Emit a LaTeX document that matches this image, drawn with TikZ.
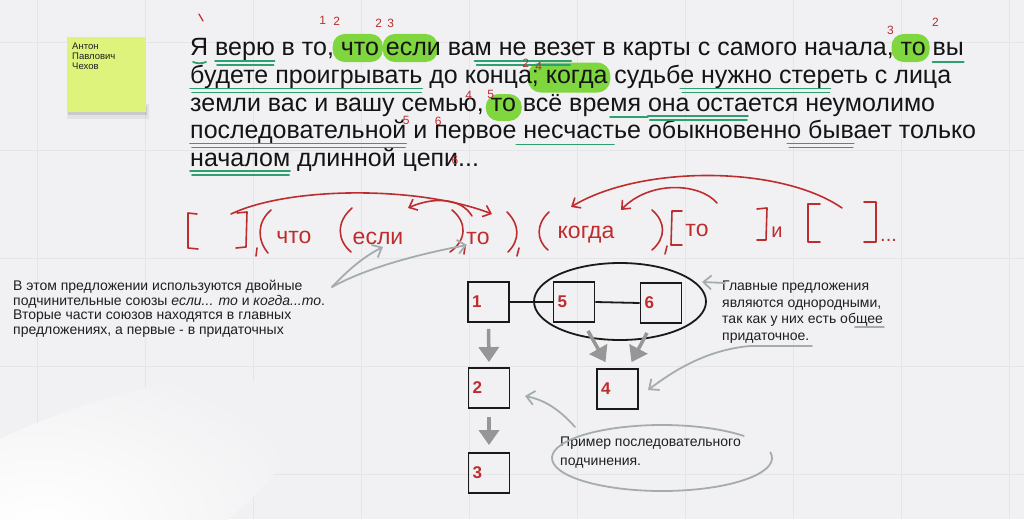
\documentclass[tikz,border=0pt]{standalone}
\usepackage{fontspec}
\setmainfont{Liberation Sans}
\usetikzlibrary{calc,arrows.meta,shapes.geometric}
\definecolor{bgc}{RGB}{241,241,243}
\definecolor{gridc}{RGB}{229,229,232}
\definecolor{notec}{RGB}{222,243,124}
\definecolor{hlg}{RGB}{128,214,62}
\definecolor{ulg}{RGB}{46,160,112}
\definecolor{rd}{RGB}{190,45,45}
\definecolor{gr}{RGB}{165,172,176}
\definecolor{garrc}{RGB}{150,150,150}
\newcommand\mf{\fontsize{25}{27.5}\selectfont}
\newlength\wtmp
\makeatletter
\newcommand\defw[3]{%
  \settowidth\wtmp{\mf #2}\advance\wtmp by 190pt
  \expandafter\xdef\csname W#1l\endcsname{\strip@pt\wtmp}%
  \settowidth\wtmp{\mf #2#3}\advance\wtmp by 190pt
  \expandafter\xdef\csname W#1r\endcsname{\strip@pt\wtmp}}
\makeatother
\newcommand\mkw[2]{\coordinate (#1l) at (\csname W#1l\endcsname,#2);\coordinate (#1r) at (\csname W#1r\endcsname,#2);}
\newcommand\hlblob[4]{\fill[hlg,rounded corners=12pt] ($(#1)+(#3,6)$) rectangle ($(#2)+(#4,-22)$);}
\newcommand\ulone[2]{\draw[ul] ($(#1)+(0,6)$) -- ($(#2)+(0,6)$);}
\newcommand\ultwo[2]{\draw[ul] ($(#1)+(0,5)$) -- ($(#2)+(0,5)$);\draw[ul] ($(#1)+(2,9)$) -- ($(#2)+(-1,9)$);}
\tikzset{
  txt/.style={anchor=base west,inner sep=0pt,font=\mf,text=black!92},
  ul/.style={draw=ulg,line width=1.8pt,line cap=round},
  rnum/.style={text=rd,inner sep=0pt,font=\fontsize{12}{12}\selectfont},
  rl/.style={draw=rd,line width=1.6pt,line cap=round,line join=round},
  rarr/.style={rl,-{Straight Barb[length=7pt,width=12pt]}},
  rtext/.style={text=rd,inner sep=0pt,font=\fontsize{23}{23}\selectfont},
  nbox/.style={draw=black!90,line width=1.8pt,minimum width=41pt,minimum height=40pt,inner sep=0pt,font=\fontsize{17}{17}\selectfont\bfseries,text=rd},
  gline/.style={draw=gr,line width=1.8pt,line cap=round},
  garr/.style={gline,-{Straight Barb[length=8pt,width=14pt]}},
  bigarr/.style={draw=garrc,line width=3.5pt,-{Triangle[width=20pt,length=15pt]}},
  cmt/.style={anchor=north west,align=left,inner sep=0pt,text=black!88}
}
\begin{document}
\defw{ya}{}{Я}%
\defw{veryu}{Я }{верю}%
\defw{chto}{Я верю в то, }{что}%
\defw{esli}{Я верю в то, что }{если}%
\defw{nevez}{Я верю в то, что если ва}{м не вез}%
\defw{to1}{Я верю в то, что если вам не везет в карты с самого начала, }{то}%
\defw{vy}{Я верю в то, что если вам не везет в карты с самого начала, то }{вы}%
\defw{bud}{}{будете проигрывать}%
\defw{kogda}{будете проигрывать до конца}{; когда}%
\defw{nuzh}{будете проигрывать до конца; когда судьб}{е нужно стер}%
\defw{to3}{земли вас и вашу семью, }{то}%
\defw{mya}{земли вас и вашу семью, то всё вре}{мя }%
\defw{ona}{земли вас и вашу семью, то всё время }{она оста}%
\defw{posl}{}{последовательной}%
\defw{perv}{последовательной и }{первое}%
\defw{nesch}{последовательной и первое}{ несчаст}%
\defw{byv}{последовательной и первое несчастье обыкновенн}{о быв}%
\defw{nach}{}{началом}%
\defw{tsepi}{началом длинной }{цепи}%
\begin{tikzpicture}[x=1pt,y=-1pt]
\useasboundingbox (0,0) rectangle (1024,519);
\fill[bgc] (0,0) rectangle (1024,519);
\foreach \gx in {37,145,...,1009} \draw[gridc,line width=0.8pt] (\gx,0) -- (\gx,519);
\foreach \gy in {42,150,258,366,474} \draw[gridc,line width=0.8pt] (0,\gy) -- (1024,\gy);
\shade[inner color=white,outer color=bgc,rotate around={25:(40,525)}] (40,525) ellipse [x radius=280,y radius=95];
% sticky note
\fill[black,opacity=0.06] (67,104) rectangle (149,119);
\fill[black,opacity=0.10] (68,106) rectangle (147,115);
\fill[notec] (67,37) rectangle (146,112);
\node[cmt,font=\fontsize{9.5}{9.8}\selectfont] (note) at (72,43) {Антон\\Павлович\\Чехов};
% word positions
\mkw{ya}{56}\mkw{veryu}{56}\mkw{chto}{56}\mkw{esli}{56}\mkw{nevez}{56}\mkw{to1}{56}\mkw{vy}{56}
\mkw{bud}{83.5}\mkw{kogda}{83.5}\mkw{nuzh}{83.5}
\mkw{to3}{111}\mkw{mya}{111}\mkw{ona}{111}
\mkw{posl}{138.5}\mkw{perv}{138.5}\mkw{nesch}{138.5}\mkw{byv}{138.5}
\mkw{nach}{166}\mkw{tsepi}{166}
% highlights
\hlblob{chtol}{chtor}{-8}{4}
\hlblob{eslil}{eslir}{-3}{-3}
\hlblob{to1l}{to1r}{-9}{4}
\fill[hlg,rounded corners=13pt] ($(kogdal)+(-4,9)$) rectangle ($(kogdar)+(3,-21)$);
\fill[hlg,rounded corners=13pt] ($(to3l)+(-5,10)$) rectangle ($(to3r)+(6,-17)$);
% main text
\node[txt] (L1) at (190,56) {Я верю в то, что если вам не везет в карты с самого начала, то вы};
\node[txt] (L2) at (190,83.5) {будете проигрывать до конца; когда судьбе нужно стереть с лица};
\node[txt] (L3) at (190,111) {земли вас и вашу семью, то всё время она остается неумолимо};
\node[txt] (L4) at (190,138.5) {последовательной и первое несчастье обыкновенно бывает только};
\node[txt] (L5) at (190,166) {началом длинной цепи...};
% underlines
\draw[ul] ($(yal)+(3,6)$) to[bend right=20] ($(yar)+(-2,6)$);
\ultwo{veryul}{veryur}
\ultwo{nevezl}{nevezr}
\ulone{vyl}{vyr}
\ultwo{budl}{budr}
\ultwo{nuzhl}{nuzhr}
\ulone{myal}{myar}
\ultwo{onal}{onar}
\ultwo{posll}{poslr}
\ulone{neschl}{neschr}
\ultwo{byvl}{byvr}
\ultwo{nachl}{nachr}
% red numbers
\draw[rl,line width=1.2pt] ($(yal)+(9,-42)$) -- ($(yal)+(13,-35)$);
\node[rnum] (n1) at ($(chtol)+(-18,-36)$) {1};
\node[rnum] (n2) at ($(chtol)+(-4,-35)$) {2};
\node[rnum] (n3) at ($(eslil)+(-7,-33)$) {2};
\node[rnum] (n4) at ($(eslil)+(5,-33)$) {3};
\node[rnum] (n5) at ($(to1l)+(-10,-26)$) {3};
\node[rnum] (n6) at ($(vyl)+(3,-34)$) {2};
\node[rnum] (n7) at ($(kogdal)+(-6,-20)$) {2};
\node[rnum] (n8) at ($(kogdal)+(7,-17)$) {4};
\node[rnum] (n9) at ($(to3l)+(-22,-16)$) {4};
\node[rnum] (n10) at ($(to3l)+(0,-17)$) {5};
\node[rnum] (n11) at ($(poslr)+(0,-18)$) {5};
\node[rnum] (n12) at ($(pervl)+(4,-17)$) {6};
\node[rnum] (n13) at ($(tsepir)+(-3,-6)$) {6};
% red scheme
\draw[rl] (197,214) -- (188,213) -- (188,248) -- (198,249);
\draw[rl] (237,213) -- (247,212) -- (246,247) -- (236,248);
\draw[rl] (257,248) -- (256,256);
\draw[rl] (271,210) .. controls (257,222) and (257,240) .. (268,253);
\node[rtext] (s1) at (294,237) {что};
\draw[rl] (352,208) .. controls (336,222) and (337,240) .. (351,252);
\node[rtext] (s2) at (378,238) {если};
\draw[rl] (452,210) .. controls (467,222) and (467,240) .. (450,252);
\draw[rl] (465,247) -- (464,254);
\node[rtext] (s3) at (478,238) {то};
\draw[rl] (507,212) .. controls (520,225) and (520,240) .. (508,252);
\draw[rl] (519,248) -- (517,256);
\draw[rl] (549,212) .. controls (536,224) and (536,240) .. (548,250);
\node[rtext] (s4) at (586,235) {когда};
\draw[rl] (652,210) .. controls (666,222) and (666,238) .. (652,250);
\draw[rl] (667,246) -- (665,254);
\draw[rl] (682,211) -- (672,211) -- (671,245) -- (682,245);
\node[rtext] (s5) at (697,230) {то};
\draw[rl] (757,209) -- (767,208) -- (766,240) -- (757,240);
\node[rtext,font=\fontsize{20}{20}\selectfont] (s6) at (777,232) {и};
\draw[rl] (820,204) -- (808,204) -- (808,242) -- (820,242);
\draw[rl] (864,202) -- (876,202) -- (876,242) -- (864,242);
\node[rtext,anchor=base west,font=\fontsize{20}{20}\selectfont] (s7) at (880,241) {...};
\draw[rarr] (231,214) .. controls (290,186) and (420,186) .. (492,214);
\draw[rarr] (472,216) .. controls (460,196) and (430,198) .. (408,208);
\draw[rarr] (842,208) .. controls (780,165) and (640,165) .. (571,207);
\draw[rarr] (717,203) .. controls (700,183) and (650,180) .. (621,210);
% comments
\node[cmt,font=\fontsize{14}{14.5}\selectfont] (c1) at (13,280) {В этом предложении используются двойные\\подчинительные союзы \textit{если... то} и \textit{когда...то}.\\Вторые части союзов находятся в главных\\предложениях, а первые - в придаточных};
\coordinate (c1t) at (332,287);
\draw[garr] (c1t) .. controls (350,268) and (365,256) .. (383,247);
\draw[garr] (c1t) .. controls (372,265) and (430,252) .. (467,245);
\node[cmt,font=\fontsize{14}{16.5}\selectfont] (c2) at (722,281) {Главные предложения\\являются однородными,\\так как у них есть общее\\придаточное.};
\node[cmt,font=\fontsize{14}{19}\selectfont] (c3) at (560,437) {Пример последовательного\\подчинения.};
% boxes
\node[nbox] (b1) at (488.5,302) {\makebox[33pt][l]{1}};
\node[nbox] (b5) at (574,302) {\makebox[33pt][l]{5}};
\node[nbox] (b6) at (661,303) {\makebox[33pt][l]{6}};
\node[nbox] (b2) at (489,388) {\makebox[33pt][l]{2}};
\node[nbox] (b4) at (617.5,389) {\makebox[33pt][l]{4}};
\node[nbox] (b3) at (489,473) {\makebox[33pt][l]{3}};
\node[draw=black!90,line width=1.8pt,ellipse,minimum width=172pt,minimum height=77pt] (ov) at (620,301.5) {};
\draw[black!90,line width=1.8pt] (b1.east) -- (b5.west);
\draw[black!90,line width=1.8pt] (b5.east) -- (b6.west);
\draw[bigarr] ($(b1.south)+(0,6)$) -- ($(b2.north)+(0,-5)$);
\draw[bigarr] ($(b2.south)+(0,8)$) -- ($(b3.north)+(0,-7)$);
\draw[bigarr] ($(b5.south)+(14,8)$) -- ($(b4.north)+(-12,-6)$);
\draw[bigarr] ($(b6.south)+(-14,9)$) -- ($(b4.north)+(14,-6)$);
% grey callouts
\draw[garr] (725,283) -- (702,282);
\draw[gline] (855,327) -- (884,327);
\draw[garr] (812,346) -- (750,346) .. controls (705,350) and (672,372) .. (648,390);
\draw[gline] (662,458) ++(-10:110 and 33) arc[start angle=-10,end angle=318,x radius=110,y radius=33];
\draw[garr] (575,427) .. controls (560,410) and (545,400) .. (525,396);
\end{tikzpicture}
\end{document}
